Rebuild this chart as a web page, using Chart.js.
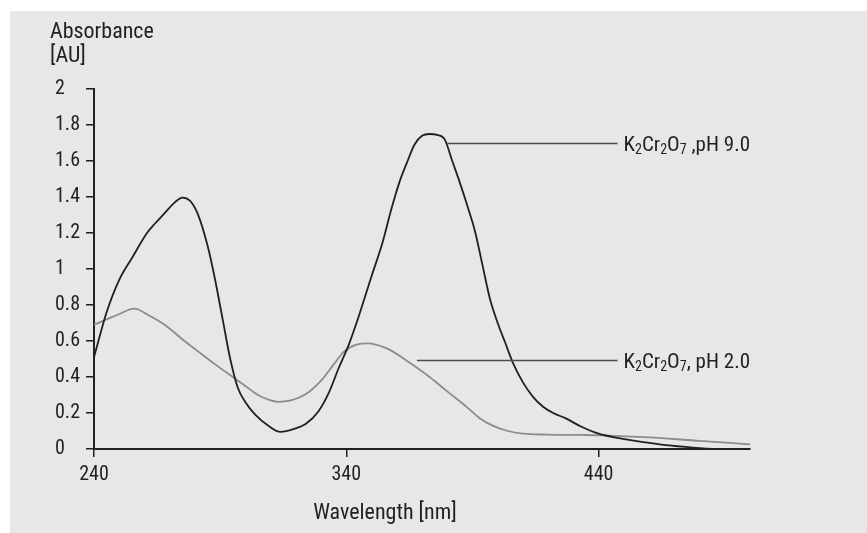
<!DOCTYPE html>
<html>
<head>
<meta charset="utf-8">
<script src="https://cdn.jsdelivr.net/npm/chart.js@4.4.0/dist/chart.umd.min.js"></script>
<style>
  html, body { margin: 0; padding: 0; background: #fff; }
  #wrap { position: absolute; left: 10px; top: 11px; width: 857px; height: 522px; background: #e6e7e8; }
</style>
</head>
<body>
<div id="wrap"><canvas id="chart" width="857" height="522"></canvas></div>
<script>
// wavelengths [nm] and absorbance [AU]
const wavelengthPH9 = [240, 245, 250, 255, 261, 264, 268, 272, 275, 278, 281, 285, 288, 291, 294, 297, 300, 304, 309, 314, 319, 324, 329, 333, 337, 341, 345, 350, 354, 358, 361, 364, 367, 370, 373, 376, 379, 382, 385, 388, 391, 394, 397, 400, 403, 406, 410, 414, 418, 422, 427, 433, 440, 448, 457, 468, 480, 490, 500]
const absorbancePH9 = [0.51, 0.76, 0.94, 1.06, 1.20, 1.25, 1.31, 1.37, 1.397, 1.38, 1.31, 1.13, 0.94, 0.72, 0.50, 0.34, 0.26, 0.19, 0.13, 0.095, 0.11, 0.14, 0.21, 0.31, 0.45, 0.58, 0.74, 0.96, 1.13, 1.34, 1.48, 1.59, 1.69, 1.74, 1.75, 1.745, 1.72, 1.60, 1.48, 1.35, 1.21, 1.02, 0.83, 0.70, 0.59, 0.48, 0.37, 0.29, 0.235, 0.20, 0.17, 0.125, 0.085, 0.06, 0.04, 0.02, 0.005, 0, 0]

const wavelengthPH2 = [240, 245, 250, 256, 262, 268, 275, 281, 288, 295, 300, 305, 309, 313, 318, 324, 330, 335, 339, 344, 349, 354, 358, 365, 373, 380, 388, 393, 398, 404, 410, 420, 433, 441, 460, 480, 500]
const absorbancePH2 = [0.69, 0.72, 0.75, 0.78, 0.74, 0.69, 0.61, 0.545, 0.47, 0.40, 0.35, 0.30, 0.275, 0.262, 0.27, 0.305, 0.38, 0.47, 0.54, 0.58, 0.587, 0.57, 0.545, 0.48, 0.40, 0.32, 0.23, 0.17, 0.13, 0.10, 0.085, 0.08, 0.078, 0.076, 0.065, 0.045, 0.026]

const xTicks = [240, 340, 440]

// leader lines [x1, x2, y] in data units, and the labels at their ends
const leaderPH9 = [380, 447.5, 1.70]
const leaderPH2 = [368, 447.5, 0.495]
const labelPH9 = [['K'], ['2', 'sub'], ['Cr'], ['2', 'sub'], ['O'], ['7', 'sub'], [' ,pH 9.0']]
const labelPH2 = [['K'], ['2', 'sub'], ['Cr'], ['2', 'sub'], ['O'], ['7', 'sub'], [', pH 2.0']]

const FONT = '"Liberation Sans Narrow", "Roboto Condensed", "DejaVu Sans Condensed", sans-serif'
const INK = '#231f20'

const toPoints = (xs, ys) => xs.map((x, i) => ({ x, y: ys[i] }))

const drawRich = (ctx, parts, x, y) => {
  ctx.textAlign = 'left'
  ctx.textBaseline = 'middle'
  parts.forEach(([text, kind]) => {
    const sub = kind === 'sub'
    ctx.font = (sub ? '14px ' : '21px ') + FONT
    ctx.fillText(text, x, sub ? y + 5 : y)
    x += ctx.measureText(text).width
  })
}

const annotations = {
  id: 'annotations',
  afterDraw(chart) {
    const { ctx, scales: { x, y } } = chart
    ctx.save()
    ctx.strokeStyle = '#4d4d4f'
    ctx.lineWidth = 1.3
    ctx.fillStyle = INK

    const leaders = [[leaderPH9, labelPH9], [leaderPH2, labelPH2]]
    leaders.forEach(([line, label]) => {
      const py = Math.round(y.getPixelForValue(line[2])) + 0.5
      ctx.beginPath()
      ctx.moveTo(x.getPixelForValue(line[0]), py)
      ctx.lineTo(x.getPixelForValue(line[1]), py)
      ctx.stroke()
      drawRich(ctx, label, x.getPixelForValue(line[1]) + 6, py + 2)
    })

    // axis titles
    ctx.font = '22px ' + FONT
    ctx.textAlign = 'left'
    ctx.textBaseline = 'middle'
    ctx.fillText('Absorbance', 40, 21)
    ctx.fillText('[AU]', 40, 45)
    ctx.textAlign = 'center'
    ctx.fillText('Wavelength [nm]', 375, 502)
    ctx.restore()
  }
}

new Chart(document.getElementById('chart'), {
  type: 'line',
  data: {
    datasets: [
      {
        label: 'K2Cr2O7, pH 9.0',
        data: toPoints(wavelengthPH9, absorbancePH9),
        borderColor: INK,
        borderWidth: 1.8,
        pointRadius: 0,
        cubicInterpolationMode: 'monotone',
      },
      {
        label: 'K2Cr2O7, pH 2.0',
        data: toPoints(wavelengthPH2, absorbancePH2),
        borderColor: '#8c8c8c',
        borderWidth: 1.8,
        pointRadius: 0,
        cubicInterpolationMode: 'monotone',
      },
    ],
  },
  options: {
    responsive: false,
    animation: false,
    devicePixelRatio: 1,
    layout: { padding: { left: 45, top: 78, right: 117, bottom: 40 } },
    plugins: {
      legend: { display: false },
      tooltip: { enabled: false },
    },
    scales: {
      x: {
        type: 'linear',
        min: 240,
        max: 500,
        afterBuildTicks: (scale) => { scale.ticks = xTicks.map(value => ({ value })) },
        grid: { drawOnChartArea: false, drawTicks: true, tickLength: 8, color: INK, lineWidth: 1.5 },
        border: { display: true, color: INK, width: 2 },
        ticks: { color: INK, font: { family: FONT, size: 20 }, padding: 6, maxRotation: 0 },
      },
      y: {
        min: 0,
        max: 2,
        afterFit: (scale) => { scale.width = 39 },
        grid: { drawOnChartArea: false, drawTicks: true, tickLength: 8, color: INK, lineWidth: 1.5 },
        border: { display: true, color: INK, width: 2 },
        ticks: {
          stepSize: 0.2,
          color: INK,
          font: { family: FONT, size: 20 },
          crossAlign: 'far',
          padding: 4,
          callback: (value) => String(Number(value.toFixed(1))),
        },
      },
    },
  },
  plugins: [annotations],
})
</script>
</body>
</html>
